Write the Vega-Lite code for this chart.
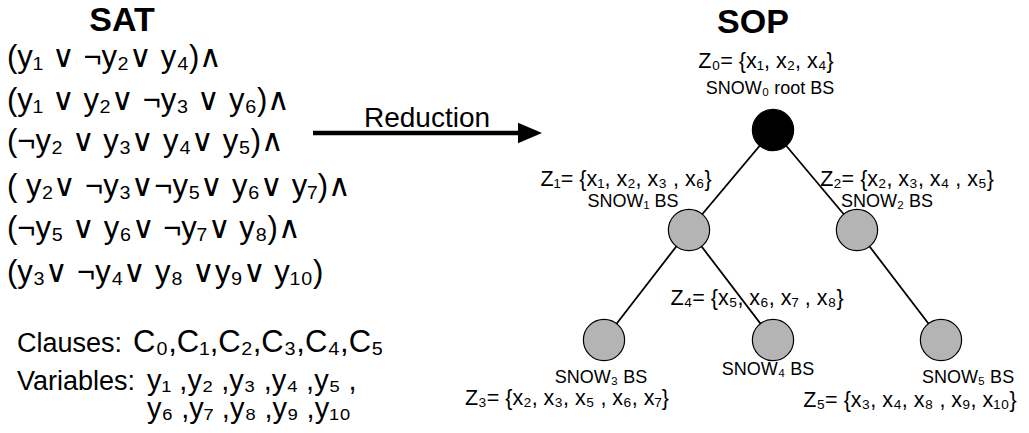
{
  "$schema": "https://vega.github.io/schema/vega-lite/v6.json",
  "width": 1029,
  "height": 433,
  "padding": 0,
  "autosize": {"type": "fit", "contains": "padding"},
  "background": "white",
  "config": {"view": {"stroke": null}},
  "datasets": {
    "titles": [
      {"x": 122, "y": 31, "t": "SAT"},
      {"x": 753, "y": 33, "t": "SOP"}
    ],
    "sat": [
      {"x": 7, "y": 67, "t": "(y₁ ∨ ¬y₂∨ y₄)∧"},
      {"x": 7, "y": 110, "t": "(y₁ ∨ y₂∨ ¬y₃ ∨ y₆)∧"},
      {"x": 7, "y": 151, "t": "(¬y₂ ∨ y₃∨ y₄∨ y₅)∧"},
      {"x": 7, "y": 196, "t": "( y₂∨ ¬y₃∨¬y₅∨ y₆∨ y₇)∧"},
      {"x": 7, "y": 238, "t": "(¬y₅ ∨ y₆∨ ¬y₇∨ y₈)∧"},
      {"x": 7, "y": 282, "t": "(y₃∨ ¬y₄∨ y₈ ∨y₉∨ y₁₀)"}
    ],
    "labels": [
      {"x": 17, "y": 352, "t": "Clauses:"},
      {"x": 17, "y": 390, "t": "Variables:"}
    ],
    "clist": [
      {"x": 133, "y": 352, "t": "C₀,C₁,C₂,C₃,C₄,C₅"}
    ],
    "vlist": [
      {"x": 147, "y": 390, "t": "y₁ ,y₂ ,y₃ ,y₄ ,y₅ ,"},
      {"x": 147, "y": 418, "t": "y₆ ,y₇ ,y₈ ,y₉ ,y₁₀"}
    ],
    "reduction": [
      {"x": 427, "y": 127, "t": "Reduction"}
    ],
    "arrow": [
      {"x": 313, "y": 133, "x2": 522, "y2": 133}
    ],
    "arrowhead": [
      {"x": 530, "y": 133}
    ],
    "edges": [
      {"x": 773, "y": 130, "x2": 689, "y2": 230},
      {"x": 773, "y": 130, "x2": 857, "y2": 230},
      {"x": 689, "y": 230, "x2": 604, "y2": 340},
      {"x": 689, "y": 230, "x2": 773, "y2": 340},
      {"x": 857, "y": 230, "x2": 941, "y2": 340}
    ],
    "nodes": [
      {"x": 773, "y": 130, "role": "root"},
      {"x": 689, "y": 230, "role": "child"},
      {"x": 857, "y": 230, "role": "child"},
      {"x": 604, "y": 340, "role": "child"},
      {"x": 773, "y": 340, "role": "child"},
      {"x": 941, "y": 340, "role": "child"}
    ],
    "zsets": [
      {"x": 766, "y": 68, "t": "Z₀= {x₁, x₂, x₄}"},
      {"x": 626, "y": 186, "t": "Z₁= {x₁, x₂, x₃ , x₆}"},
      {"x": 907, "y": 186, "t": "Z₂= {x₂, x₃, x₄ , x₅}"},
      {"x": 757, "y": 305, "t": "Z₄= {x₅, x₆, x₇ , x₈}"},
      {"x": 567, "y": 405, "t": "Z₃= {x₂, x₃, x₅ , x₆, x₇}"},
      {"x": 910, "y": 407, "t": "Z₅= {x₃, x₄, x₈ , x₉, x₁₀}"}
    ],
    "snow": [
      {"x": 770, "y": 94, "t": "SNOW₀ root BS"},
      {"x": 633, "y": 207, "t": "SNOW₁ BS"},
      {"x": 887, "y": 207, "t": "SNOW₂ BS"},
      {"x": 601, "y": 383, "t": "SNOW₃ BS"},
      {"x": 768, "y": 375, "t": "SNOW₄ BS"},
      {"x": 968, "y": 383, "t": "SNOW₅ BS"}
    ]
  },
  "encoding": {
    "x": {"field": "x", "type": "quantitative", "scale": {"domain": [0, 1029], "nice": false, "zero": false}, "axis": null},
    "y": {"field": "y", "type": "quantitative", "scale": {"domain": [0, 433], "nice": false, "zero": false, "reverse": true}, "axis": null}
  },
  "layer": [
    {
      "data": {"name": "edges"},
      "mark": {"type": "rule", "color": "black", "strokeWidth": 1.8},
      "encoding": {"x2": {"field": "x2"}, "y2": {"field": "y2"}}
    },
    {
      "data": {"name": "nodes"},
      "mark": {"type": "point", "shape": "circle", "filled": true, "size": 1700, "stroke": "black", "strokeWidth": 1.2, "opacity": 1},
      "encoding": {
        "fill": {"field": "role", "type": "nominal", "scale": {"domain": ["root", "child"], "range": ["#000000", "#b4b4b4"]}, "legend": null}
      }
    },
    {
      "data": {"name": "arrow"},
      "mark": {"type": "rule", "color": "black", "strokeWidth": 4.5},
      "encoding": {"x2": {"field": "x2"}, "y2": {"field": "y2"}}
    },
    {
      "data": {"name": "arrowhead"},
      "mark": {"type": "point", "shape": "M-1,-0.85L1,0L-1,0.85Z", "filled": true, "color": "black", "size": 576, "opacity": 1}
    },
    {
      "data": {"name": "titles"},
      "mark": {"type": "text", "font": "Liberation Sans", "fontWeight": "bold", "fontSize": 34, "align": "center", "baseline": "alphabetic", "color": "black"},
      "encoding": {"text": {"field": "t"}}
    },
    {
      "data": {"name": "sat"},
      "mark": {"type": "text", "font": "Liberation Sans", "fontSize": 31, "align": "left", "baseline": "alphabetic", "color": "black"},
      "encoding": {"text": {"field": "t"}}
    },
    {
      "data": {"name": "labels"},
      "mark": {"type": "text", "font": "Liberation Sans", "fontSize": 27, "align": "left", "baseline": "alphabetic", "color": "black"},
      "encoding": {"text": {"field": "t"}}
    },
    {
      "data": {"name": "clist"},
      "mark": {"type": "text", "font": "Liberation Sans", "fontSize": 31, "align": "left", "baseline": "alphabetic", "color": "black"},
      "encoding": {"text": {"field": "t"}}
    },
    {
      "data": {"name": "vlist"},
      "mark": {"type": "text", "font": "Liberation Sans", "fontSize": 29, "align": "left", "baseline": "alphabetic", "color": "black"},
      "encoding": {"text": {"field": "t"}}
    },
    {
      "data": {"name": "reduction"},
      "mark": {"type": "text", "font": "Liberation Sans", "fontSize": 28, "align": "center", "baseline": "alphabetic", "color": "black"},
      "encoding": {"text": {"field": "t"}}
    },
    {
      "data": {"name": "zsets"},
      "mark": {"type": "text", "font": "Liberation Sans", "fontSize": 21.5, "align": "center", "baseline": "alphabetic", "color": "black"},
      "encoding": {"text": {"field": "t"}}
    },
    {
      "data": {"name": "snow"},
      "mark": {"type": "text", "font": "Liberation Sans", "fontSize": 18, "align": "center", "baseline": "alphabetic", "color": "black"},
      "encoding": {"text": {"field": "t"}}
    }
  ]
}
